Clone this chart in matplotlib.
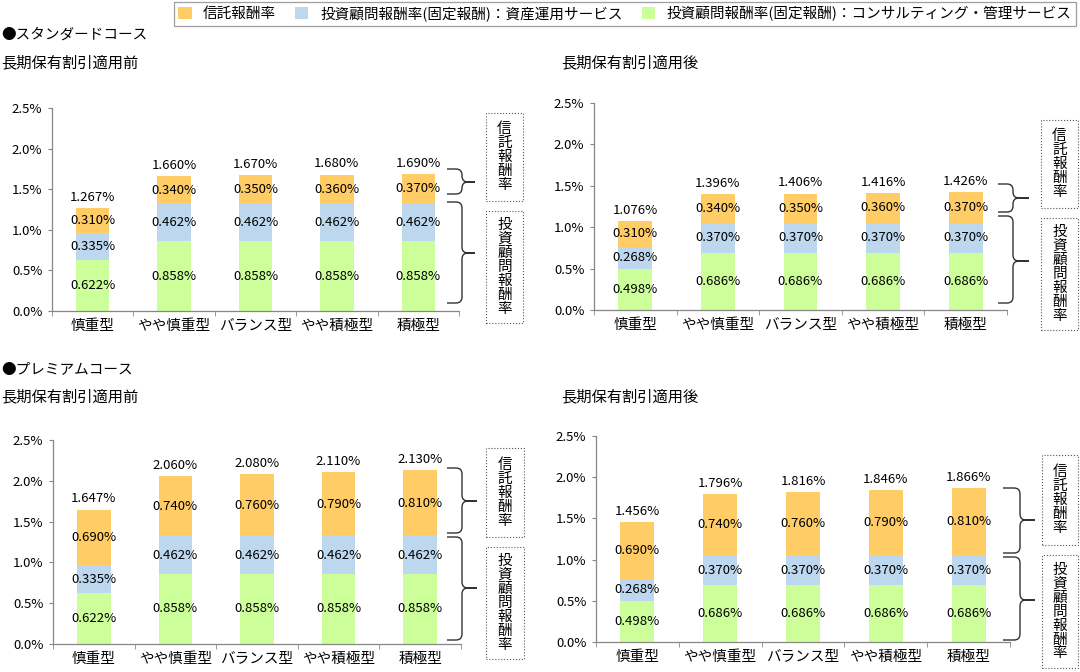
import numpy as np
import matplotlib
matplotlib.use('Agg')
import matplotlib.pyplot as plt
from matplotlib.patches import Rectangle, Patch, PathPatch
from matplotlib.path import Path

plt.rcParams['font.family'] = ['Noto Sans CJK JP', 'DejaVu Sans']

# --- data (values in %) ---
categories = ['慎重型', 'やや慎重型', 'バランス型', 'やや積極型', '積極型']
series_names = ['信託報酬率',
                '投資顧問報酬率(固定報酬)：資産運用サービス',
                '投資顧問報酬率(固定報酬)：コンサルティング・管理サービス']

std_before_consult = [0.622, 0.858, 0.858, 0.858, 0.858]
std_before_asset = [0.335, 0.462, 0.462, 0.462, 0.462]
std_before_trust = [0.310, 0.340, 0.350, 0.360, 0.370]

std_after_consult = [0.498, 0.686, 0.686, 0.686, 0.686]
std_after_asset = [0.268, 0.370, 0.370, 0.370, 0.370]
std_after_trust = [0.310, 0.340, 0.350, 0.360, 0.370]

prem_before_consult = [0.622, 0.858, 0.858, 0.858, 0.858]
prem_before_asset = [0.335, 0.462, 0.462, 0.462, 0.462]
prem_before_trust = [0.690, 0.740, 0.760, 0.790, 0.810]

prem_after_consult = [0.498, 0.686, 0.686, 0.686, 0.686]
prem_after_asset = [0.268, 0.370, 0.370, 0.370, 0.370]
prem_after_trust = [0.690, 0.740, 0.760, 0.790, 0.810]

c_trust = '#FFCC66'
c_asset = '#BDD7EE'
c_consult = '#CCFF99'
grey = '#878787'

W, H = 1080, 672


def fx(x):
    return x / W


def fy(y):
    return 1 - y / H


def draw_panel(fig, box, consult, asset, trust):
    x0, ytop, x1, ybot = box
    ax = fig.add_axes([fx(x0), fy(ybot), (x1 - x0) / W, (ybot - ytop) / H])
    x = np.arange(len(categories))
    bottom = np.zeros(len(categories))
    last = None
    for vals, col in zip([consult, asset, trust], [c_consult, c_asset, c_trust]):
        vals = np.array(vals)
        last = ax.bar(x, vals, width=0.41, bottom=bottom, color=col, linewidth=0)
        ax.bar_label(last, labels=[f'{v:.3f}%' for v in vals], label_type='center', fontsize=9.5)
        bottom = bottom + vals
    ax.bar_label(last, labels=[f'{t:.3f}%' for t in bottom], label_type='edge', padding=3, fontsize=9.5)

    ax.set_xlim(-0.5, len(categories) - 0.5)
    ax.set_ylim(0, 2.5)
    ax.set_yticks(np.arange(0, 2.51, 0.5))
    ax.set_yticklabels([f'{v:.1f}%' for v in np.arange(0, 2.51, 0.5)], fontsize=9.5)
    ax.set_xticks(x)
    ax.set_xticklabels(categories, fontsize=10.5)
    ax.set_xticks(np.arange(-0.5, len(categories), 1.0), minor=True)
    ax.tick_params(axis='x', which='major', length=0, pad=6)
    ax.tick_params(axis='x', which='minor', length=3.5, color=grey, direction='out')
    ax.tick_params(axis='y', length=3, color=grey, pad=4)
    for s in ['top', 'right']:
        ax.spines[s].set_visible(False)
    for s in ['left', 'bottom']:
        ax.spines[s].set_color(grey)
        ax.spines[s].set_linewidth(0.9)
    return ax


def brace(fig, xh, xs, xt, yt, yb, ym):
    r = min(6, (ym - yt) / 2, (yb - ym) / 2)
    pts = [(xh, yt), (xs - r, yt), (xs, yt), (xs, yt + r), (xs, ym - r), (xs, ym), (xs + r, ym),
           (xt, ym), (xs + r, ym), (xs, ym), (xs, ym + r), (xs, yb - r), (xs, yb), (xs - r, yb), (xh, yb)]
    codes = [Path.MOVETO, Path.LINETO, Path.CURVE3, Path.CURVE3, Path.LINETO, Path.CURVE3, Path.CURVE3,
             Path.LINETO, Path.LINETO, Path.CURVE3, Path.CURVE3, Path.LINETO, Path.CURVE3, Path.CURVE3,
             Path.LINETO]
    path = Path([(fx(a), fy(b)) for a, b in pts], codes)
    fig.patches.append(PathPatch(path, fill=False, edgecolor='#333333', lw=1.0,
                                 transform=fig.transFigure))


def label_box(fig, bx0, bx1, by0, by1, text):
    fig.patches.append(Rectangle((fx(bx0), fy(by1)), (bx1 - bx0) / W, (by1 - by0) / H,
                                 fill=False, edgecolor='#555555', lw=0.8, linestyle=':',
                                 transform=fig.transFigure))
    step = 14
    cy = (by0 + by1) / 2
    start = cy - step * len(text) / 2
    for k, ch in enumerate(text):
        fig.text(fx((bx0 + bx1) / 2), fy(start + (k + 0.5) * step), ch,
                 ha='center', va='center', fontsize=10.5)


fig = plt.figure(figsize=(W / 100, H / 100), dpi=100)

# headings
fig.text(fx(1), fy(35), '●スタンダードコース', fontsize=10.5, va='center', ha='left')
fig.text(fx(1), fy(63), '長期保有割引適用前', fontsize=11, va='center', ha='left')
fig.text(fx(561), fy(63), '長期保有割引適用後', fontsize=11, va='center', ha='left')
fig.text(fx(1), fy(370), '●プレミアムコース', fontsize=10.5, va='center', ha='left')
fig.text(fx(1), fy(397), '長期保有割引適用前', fontsize=11, va='center', ha='left')
fig.text(fx(561), fy(397), '長期保有割引適用後', fontsize=11, va='center', ha='left')

panels = [
    dict(box=(52, 108, 459, 311), data=(std_before_consult, std_before_asset, std_before_trust),
         br=(447, 462, 475), top=(169, 194, 182), low=(202, 303, 253),
         bx=(486, 523), tb=(113, 201), lb=(211, 323)),
    dict(box=(594, 103, 1007, 310), data=(std_after_consult, std_after_asset, std_after_trust),
         br=(998, 1013, 1029), top=(184, 212, 198), low=(216, 303, 261),
         bx=(1041, 1078), tb=(120, 208), lb=(218, 330)),
    dict(box=(53, 440, 461, 644), data=(prem_before_consult, prem_before_asset, prem_before_trust),
         br=(447, 462, 477), top=(468, 533, 501), low=(537, 640, 588),
         bx=(486, 524), tb=(448, 537), lb=(547, 659)),
    dict(box=(596, 436, 1010, 642), data=(prem_after_consult, prem_after_asset, prem_after_trust),
         br=(1003, 1020, 1035), top=(488, 553, 520), low=(557, 640, 600),
         bx=(1042, 1078), tb=(455, 545), lb=(555, 668)),
]

for p in panels:
    draw_panel(fig, p['box'], *p['data'])
    xh, xs, xt = p['br']
    brace(fig, xh, xs, xt, *p['top'])
    brace(fig, xh, xs, xt, *p['low'])
    label_box(fig, p['bx'][0], p['bx'][1], p['tb'][0], p['tb'][1], '信託報酬率')
    label_box(fig, p['bx'][0], p['bx'][1], p['lb'][0], p['lb'][1], '投資顧問報酬率')

handles = [Patch(facecolor=c, edgecolor='none') for c in [c_trust, c_asset, c_consult]]
leg = fig.legend(handles, series_names, loc='upper left', bbox_to_anchor=(fx(174), fy(2)),
                 ncol=3, fontsize=10.5, frameon=True, fancybox=False, edgecolor=grey,
                 handlelength=0.9, handleheight=0.9, handletextpad=0.8, columnspacing=1.3,
                 borderpad=0.3, borderaxespad=0)
leg.get_frame().set_linewidth(0.9)

fig.savefig('out.png', dpi=100, facecolor='white')
